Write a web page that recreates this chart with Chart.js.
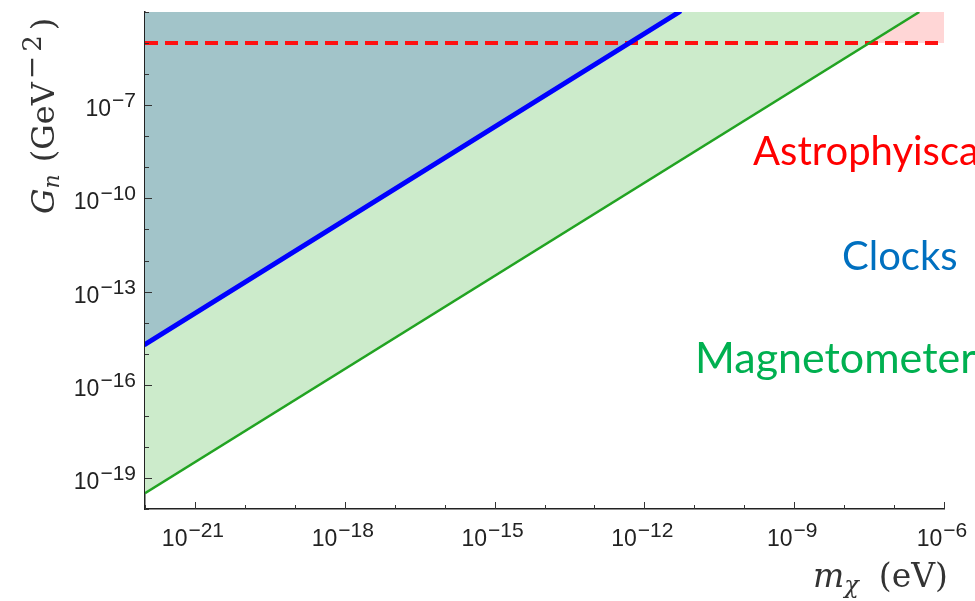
<!DOCTYPE html>
<html>
<head>
<meta charset="utf-8">
<script src="https://cdn.jsdelivr.net/npm/chart.js@4.4.1/dist/chart.umd.min.js"></script>
<style>
  html, body { margin: 0; padding: 0; background: #fff; overflow: hidden; }
  canvas { display: block; }
</style>
</head>
<body>
<canvas id="limits" width="975" height="601"></canvas>
<script>
// Coupling G_n (GeV^-2) against scalar mass m_chi (eV): excluded regions
const clockMass = [1e-22, 5.0e-12];
const clockCoupling = [2.0e-15, 1e-4];
const magnetometerMass = [1e-22, 3.2e-7];
const magnetometerCoupling = [3.2e-20, 1e-4];
const astroMass = [1e-22, 1e-6];
const astroCoupling = [1e-5, 1e-5];

const massRange = [1e-22, 1e-6];
const couplingRange = [1e-20, 1e-4];
const massTickExponents = [-21, -18, -15, -12, -9, -6];
const couplingTickExponents = [-19, -16, -13, -10, -7];

const regionNames = ['Astrophyiscal', 'Clocks', 'Magnetometers'];
const regionColors = ['#ff0000', '#0070c0', '#00b050'];

const zip = (xs, ys) => xs.map((v, i) => ({ x: v, y: ys[i] }));
const MINUS = '\u2212';

// Draws a run of text pieces with their own fonts and baseline shifts
function drawRun(ctx, pieces, x, y) {
  let cx = x;
  for (const p of pieces) {
    if (p.gap) { cx += p.gap; continue; }
    ctx.font = p.font;
    ctx.fillText(p.t, cx, y + (p.dy || 0));
    cx += ctx.measureText(p.t).width;
  }
  return cx - x;
}
function runWidth(ctx, pieces) {
  let w = 0;
  for (const p of pieces) {
    if (p.gap) { w += p.gap; continue; }
    ctx.font = p.font;
    w += ctx.measureText(p.t).width;
  }
  return w;
}
function powerPieces(exp) {
  return [
    { t: '10', font: '23px "Liberation Sans"' },
    { gap: 1 },
    { t: MINUS + Math.abs(exp), font: '21px "Liberation Sans"', dy: -9 }
  ];
}

const axisDecor = {
  id: 'axisDecor',
  afterDraw(chart) {
    const { ctx, chartArea: a, scales: { x, y } } = chart;
    ctx.save();
    ctx.strokeStyle = '#333';
    ctx.lineWidth = 1;
    const seg = (x1, y1, x2, y2) => { ctx.beginPath(); ctx.moveTo(x1, y1); ctx.lineTo(x2, y2); ctx.stroke(); };

    // inward tick marks, one per decade
    for (let e = Math.round(Math.log10(massRange[0])); e <= Math.round(Math.log10(massRange[1])); e++) {
      const px = Math.round(x.getPixelForValue(Math.pow(10, e))) + 0.5;
      const len = massTickExponents.includes(e) ? 7 : 4;
      seg(px, a.bottom, px, a.bottom - len);
    }
    for (let e = Math.round(Math.log10(couplingRange[0])); e <= Math.round(Math.log10(couplingRange[1])); e++) {
      const py = Math.round(y.getPixelForValue(Math.pow(10, e))) + 0.5;
      const len = couplingTickExponents.includes(e) ? 7 : 4;
      seg(a.left, py, a.left + len, py);
    }

    // tick labels
    ctx.fillStyle = '#222';
    ctx.textBaseline = 'alphabetic';
    ctx.textAlign = 'left';
    for (const e of massTickExponents) {
      const px = x.getPixelForValue(Math.pow(10, e));
      const pcs = powerPieces(e);
      const w = runWidth(ctx, pcs);
      drawRun(ctx, pcs, px - w / 2 - 2, a.bottom + 37);
    }
    for (const e of couplingTickExponents) {
      const py = y.getPixelForValue(Math.pow(10, e));
      const pcs = powerPieces(e);
      const w = runWidth(ctx, pcs);
      drawRun(ctx, pcs, a.left - 9 - w, py + 11);
    }

    // axis titles
    ctx.fillStyle = '#333';
    drawRun(ctx, [
      { t: 'm', font: 'italic 33px "DejaVu Serif"' },
      { t: '\u03c7', font: 'italic 24px "DejaVu Serif"', dy: 6 },
      { gap: 20 },
      { t: '(eV)', font: '33px "DejaVu Serif"' }
    ], 813, 587);

    ctx.save();
    ctx.translate(54, 214);
    ctx.rotate(-Math.PI / 2);
    drawRun(ctx, [
      { t: 'G', font: 'italic 32px "DejaVu Serif"' },
      { t: 'n', font: 'italic 22px "DejaVu Serif"', dy: 5 },
      { gap: 12 },
      { t: '(GeV', font: '32px "DejaVu Serif"' },
      { gap: 3 },
      { t: MINUS, font: '28px "DejaVu Serif"', dy: -13 },
      { gap: 4 },
      { t: '2', font: '26px "DejaVu Serif"', dy: -13 },
      { gap: 5 },
      { t: ')', font: '32px "DejaVu Serif"' }
    ], 0, 0);
    ctx.restore();

    // region names
    const spots = [[753, 165, 40], [842, 270, 40], [695, 373, 43]];
    regionNames.forEach((name, i) => {
      ctx.font = spots[i][2] + 'px Lato';
      ctx.fillStyle = regionColors[i];
      ctx.fillText(name, spots[i][0], spots[i][1]);
    });
    ctx.restore();
  }
};

new Chart(document.getElementById('limits'), {
  type: 'line',
  data: {
    datasets: [
      {
        label: 'Clocks',
        data: zip(clockMass, clockCoupling),
        borderColor: '#0000ff',
        borderWidth: 5,
        borderCapStyle: 'round',
        backgroundColor: '#a2c4c9',
        fill: 'end'
      },
      {
        label: 'Magnetometers',
        data: zip(magnetometerMass, magnetometerCoupling),
        borderColor: '#22a322',
        borderWidth: 2.5,
        backgroundColor: '#ccebcb',
        fill: 'end'
      },
      {
        label: 'Astrophysical',
        data: zip(astroMass, astroCoupling),
        borderColor: '#ff1111',
        borderWidth: 4,
        borderDash: [13, 7],
        backgroundColor: '#ffd6d6',
        fill: 'end'
      }
    ]
  },
  options: {
    responsive: false,
    animation: false,
    devicePixelRatio: 1,
    layout: { padding: { left: 137, right: 31, top: 12, bottom: 84 } },
    elements: { point: { radius: 0, hoverRadius: 0 }, line: { tension: 0 } },
    plugins: {
      legend: { display: false },
      tooltip: { enabled: false },
      filler: { drawTime: 'beforeDatasetsDraw' }
    },
    scales: {
      x: {
        type: 'logarithmic',
        min: massRange[0], max: massRange[1],
        ticks: { display: false },
        grid: { display: false },
        border: { display: true, color: '#222', width: 1.5 }
      },
      y: {
        type: 'logarithmic',
        min: couplingRange[0], max: couplingRange[1],
        ticks: { display: false },
        grid: { display: false },
        border: { display: true, color: '#222', width: 1.5 }
      }
    }
  },
  plugins: [axisDecor]
});
</script>
</body>
</html>
